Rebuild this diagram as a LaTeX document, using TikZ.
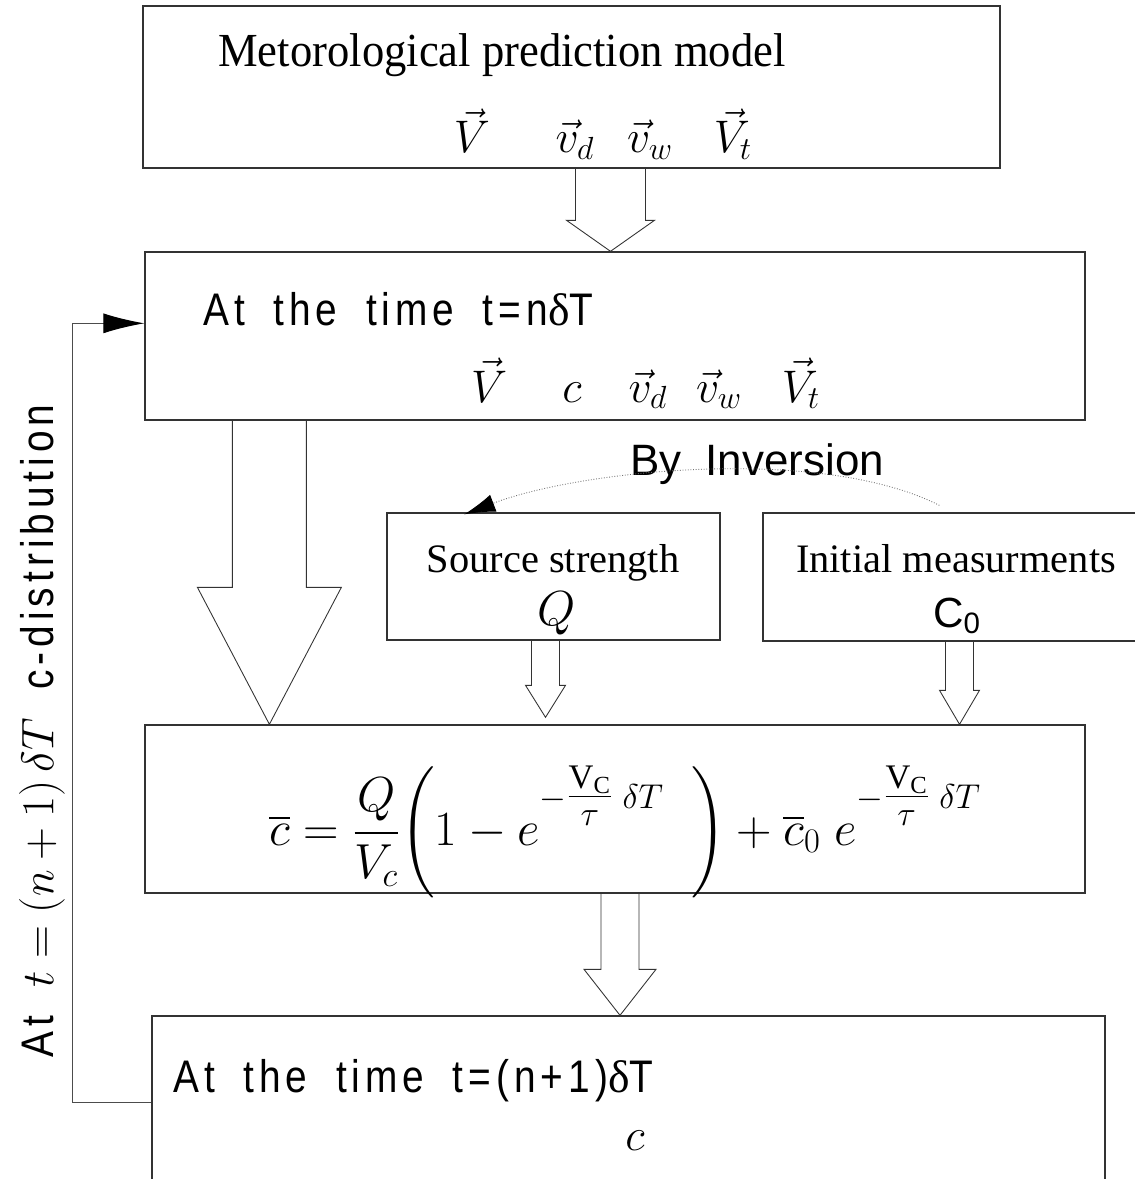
\RequirePackage{fix-cm}
\documentclass[tikz,border=0pt]{standalone}
\usepackage{amsmath}
\usepackage{fontspec}
\setmainfont{Liberation Serif}
\newfontfamily\narrowserif[FakeStretch=0.94]{Liberation Serif}
\newfontfamily\plainsans{Liberation Sans}
\newfontfamily\oddsans[FakeStretch=0.85, LetterSpace=11, WordSpace=1.8]{Liberation Sans}
\usetikzlibrary{shapes, arrows.meta, positioning, calc}

\tikzset{hollow/.style n args={3}{draw=black!80, line width=0.5pt, to path={
  ($(\tikztostart)+(-#1,0)$) -- ($(\tikztostart |- \tikztotarget)+(-#1,-#3)$)
  -- ($(\tikztostart |- \tikztotarget)+(-#2,-#3)$) -- (\tikztostart |- \tikztotarget)
  -- ($(\tikztostart |- \tikztotarget)+(#2,-#3)$) -- ($(\tikztostart |- \tikztotarget)+(#1,-#3)$)
  -- ($(\tikztostart)+(#1,0)$)}}}

\begin{document}
\begin{tikzpicture}[x=0.02cm, y=-0.02cm]
% Node styles
\tikzstyle{box} = [rectangle, draw=black!80, line width=0.8pt, inner sep=0pt]
\tikzstyle{serif} = [font=\narrowserif\fontsize{27}{29}\selectfont, inner sep=0pt]
\tikzstyle{small serif} = [font=\fontsize{23}{25}\selectfont, inner sep=0pt]
\tikzstyle{sym} = [font=\fontsize{26}{28}\selectfont, inner sep=0pt]
\tikzstyle{title} = [font=\oddsans\fontsize{26}{28}\selectfont, inner sep=0pt]
\tikzstyle{inv} = [densely dotted, black!55, line width=0.5pt, -{Latex[length=0.62cm, width=0.36cm, black]}]
\tikzstyle{back} = [black!70, line width=0.6pt, -{Latex[length=0.82cm, width=0.4cm, black]}]

\useasboundingbox (0,0) rectangle (1134,1179);

% Boxes
\node [box, minimum width=17.14cm, minimum height=3.24cm] (meteo) at (571.5,87) {};
\node [box, minimum width=18.8cm, minimum height=3.36cm] (now) at (615,336) {};
\node [box, minimum width=6.66cm, minimum height=2.54cm] (src) at (553.5,576.5) {};
\node [box, minimum width=7.94cm, minimum height=2.56cm] (init) at (961.5,577) {};
\node [box, minimum width=18.8cm, minimum height=3.36cm] (mix) at (615,809) {};
\node [box, minimum width=19.06cm, minimum height=3.68cm] (later) at (628.5,1108) {};

% Texts
\node [serif, anchor=base west] (meteotxt) at (218,67) {Metorological prediction model};
\node [sym, anchor=base] (mV) at (472,153) {$\vec{V}$};
\node [sym, anchor=base] (mvd) at (575,153) {$\vec{v}_d$};
\node [sym, anchor=base] (mvw) at (650,153) {$\vec{v}_w$};
\node [sym, anchor=base] (mVt) at (733,153) {$\vec{V}_t$};

\node [title, anchor=base west] (nowtxt) at (203,325) {At the time t=n{\rmfamily δ}T};
\node [sym, anchor=base] (nV) at (489,402) {$\vec{V}$};
\node [sym, anchor=base] (nc) at (572,402) {$c$};
\node [sym, anchor=base] (nvd) at (648,402) {$\vec{v}_d$};
\node [sym, anchor=base] (nvw) at (719,402) {$\vec{v}_w$};
\node [sym, anchor=base] (nVt) at (801,402) {$\vec{V}_t$};

\node [font=\plainsans\fontsize{25}{27}\selectfont, inner sep=0pt, anchor=base] (invtxt) at (757,475) {By\ \ Inversion};

\node [small serif, anchor=base] (srctxt) at (553,572) {Source strength};
\node [sym, font=\fontsize{28}{30}\selectfont, anchor=base] (srcQ) at (557,625) {$Q$};
\node [small serif, anchor=base] (inittxt) at (956,572) {Initial measurments};
\node [font=\plainsans\fontsize{24}{26}\selectfont, inner sep=0pt, anchor=base] (initC) at (957,627) {C\textsubscript{0}};

\node [font=\fontsize{28}{30}\selectfont, inner sep=0pt, anchor=base] (formula) at (625,845)
  {$\displaystyle \overline{c} = \frac{Q}{V_c}\bigg(1-e^{\raisebox{9pt}{$\scriptstyle -\genfrac{}{}{}{1}{\mathrm{V_C}}{\tau}\;\delta T$}}\;\;\bigg)+\overline{c}_0\;e^{\raisebox{9pt}{$\scriptstyle -\genfrac{}{}{}{1}{\mathrm{V_C}}{\tau}\;\delta T$}}$};

\node [title, anchor=base west] (latertxt) at (173,1092) {At the time t=(n+1){\rmfamily δ}T};
\node [sym, anchor=base] (laterc) at (635,1150) {$c$};

\node [title, font=\oddsans\fontsize{26}{28}\selectfont, rotate=90] (loop) at (42,731)
  {At $t=(n+1)\,\delta T$ c-distribution};

% Arrows
\draw [hollow={35}{44}{31}] ($(meteo.south)+(39,0)$) to (now.north);
\draw [hollow={37}{72}{137}] ($(now.south west)+(125,0)$) to (mix.north);
\draw [hollow={14}{20}{32}] ($(src.south)+(-8,0)$) to ($(mix.north)+(0,-7)$);
\draw [hollow={14}{20}{34}] ($(init.south)+(-2,0)$) to (mix.north);
\draw [hollow={19}{36}{46}] ($(mix.south)+(5,0)$) to (later.north);

\draw [inv] ($(init.north west)+(177,-7)$) .. controls (820,445) and (580,470) .. ($(src.north west)+(78,2)$);
\draw [back] ($(later.north west)+(0,87)$) -- ++(-79,0) |- ($(now.north west)+(0,72)$);
\end{tikzpicture}
\end{document}
